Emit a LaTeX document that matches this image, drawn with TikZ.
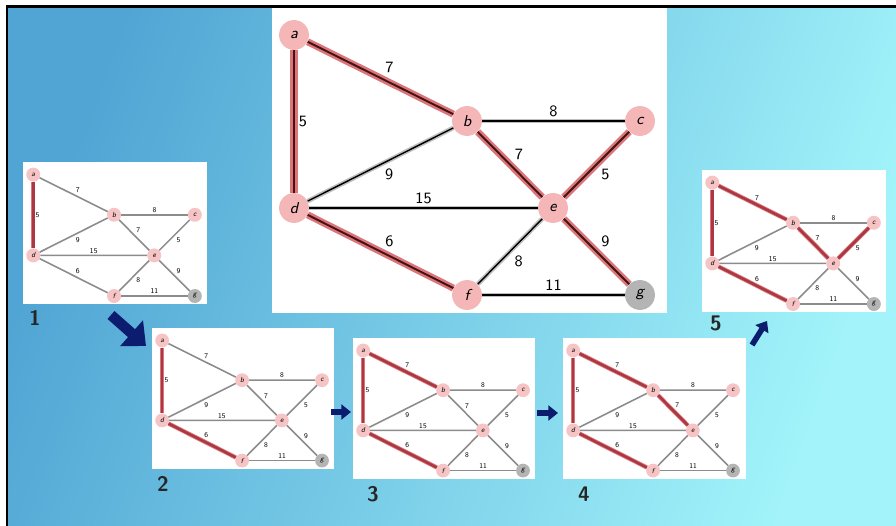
\documentclass[tikz,border=0pt]{standalone}
\usetikzlibrary{arrows.meta}

\definecolor{bgtop}{RGB}{80,165,212}
\definecolor{bgbot}{RGB}{162,244,250}
\definecolor{vertex}{RGB}{244,182,182}
\definecolor{vertexlight}{RGB}{246,196,196}
\definecolor{leaf}{RGB}{180,180,180}
\definecolor{treered}{RGB}{218,118,122}
\definecolor{treecore}{RGB}{70,18,20}
\definecolor{thumbred}{RGB}{170,55,65}
\definecolor{navy}{RGB}{12,28,110}

\tikzset{
  vtx/.style={circle, fill=vertex, minimum size=17pt, inner sep=0pt, font=\small\sffamily\itshape},
  wt/.style={font=\small\sffamily, inner sep=2.2pt},
  tree/.style={draw=treecore, line width=1.1pt, preaction={draw=treered, line width=4pt}},
  plain/.style={draw=black, line width=0.8pt, preaction={draw=black!25, line width=2.6pt}},
  thumbtree/.style={draw=thumbred, line width=1.4pt, preaction={draw=treered, line width=2.4pt}},
  thumbplain/.style={draw=black!45, line width=0.9pt},
  thumb/.style={tree/.style=thumbtree, plain/.style=thumbplain, vtx/.append style={fill=vertexlight}},
  e-ab/.style=plain, e-ad/.style=plain, e-bc/.style=plain, e-be/.style=plain,
  e-ce/.style=plain, e-db/.style=plain, e-de/.style=plain, e-df/.style=plain,
  e-ef/.style=plain, e-eg/.style=plain, e-fg/.style=plain,
  bigarrow/.style={draw=navy, line width=6pt, -{Triangle[length=11pt, width=19pt]}},
  smallarrow/.style={draw=navy, line width=3.2pt, -{Triangle[length=5.5pt, width=8.5pt]}},
  stepnum/.style={font=\large\sffamily\bfseries, text=black!85}
}

% one copy of the graph, node names start with #1
\newcommand{\mstgraph}[1]{%
  % white panel behind the graph
  \fill[white] (0,0) rectangle (395,305);
  % vertices
  \node[vtx] (#1a) at (22,27) {a};
  \node[vtx] (#1b) at (195,113) {b};
  \node[vtx] (#1c) at (368,113) {c};
  \node[vtx] (#1d) at (22,200) {d};
  \node[vtx] (#1e) at (281,200) {e};
  \node[vtx] (#1f) at (195,287) {f};
  \node[vtx, fill=leaf] (#1g) at (368,287) {g};
  % edges and weights
  \draw[e-ab] (#1a) -- node[wt, above right] {7} (#1b);
  \draw[e-ad] (#1a) -- node[wt, right] {5} (#1d);
  \draw[e-bc] (#1b) -- node[wt, above] {8} (#1c);
  \draw[e-be] (#1b) -- node[wt, above right] {7} (#1e);
  \draw[e-ce] (#1c) -- node[wt, below right] {5} (#1e);
  \draw[e-db] (#1d) -- node[wt, below right] {9} (#1b);
  \draw[e-de] (#1d) -- node[wt, above] {15} (#1e);
  \draw[e-df] (#1d) -- node[wt, above right] {6} (#1f);
  \draw[e-ef] (#1e) -- node[wt, below right] {8} (#1f);
  \draw[e-eg] (#1e) -- node[wt, above right] {9} (#1g);
  \draw[e-fg] (#1f) -- node[wt, above] {11} (#1g);
}

\begin{document}
\begin{tikzpicture}[x=0.02cm, y=-0.02cm]
    \useasboundingbox (0,0) rectangle (896,526);
    % Background with the frame on top and left
    \fill[white] (0,0) rectangle (896,526);
    \shade[top color=bgtop, bottom color=bgbot, shading angle=70] (7,7) rectangle (896,526);
    \draw[line width=1.7pt] (7,526) -- (7,7) -- (896,7);

    % Final tree, large
    \begin{scope}[shift={(272,8)}, e-ad/.style=tree, e-df/.style=tree, e-ab/.style=tree,
                  e-be/.style=tree, e-ce/.style=tree, e-eg/.style=tree]
      \mstgraph{m}
    \end{scope}

    % Step 1
    \begin{scope}[shift={(23,162)}, scale=0.467, transform shape, thumb, e-ad/.style=tree]
      \mstgraph{p}
    \end{scope}
    % Step 2
    \begin{scope}[shift={(152,328)}, scale=0.462, transform shape, thumb, e-ad/.style=tree,
                  e-df/.style=tree]
      \mstgraph{q}
    \end{scope}
    % Step 3
    \begin{scope}[shift={(353,338)}, scale=0.462, transform shape, thumb, e-ad/.style=tree,
                  e-df/.style=tree, e-ab/.style=tree]
      \mstgraph{r}
    \end{scope}
    % Step 4
    \begin{scope}[shift={(563,338)}, scale=0.462, transform shape, thumb, e-ad/.style=tree,
                  e-df/.style=tree, e-ab/.style=tree, e-be/.style=tree]
      \mstgraph{s}
    \end{scope}
    % Step 5
    \begin{scope}[shift={(702,170)}, scale=0.467, transform shape, thumb, e-ad/.style=tree,
                  e-df/.style=tree, e-ab/.style=tree, e-be/.style=tree, e-ce/.style=tree]
      \mstgraph{t}
    \end{scope}

    % Step numbers
    \node[stepnum] (n1) at (35,318) {1};
    \node[stepnum] (n2) at (163,484) {2};
    \node[stepnum] (n3) at (373,494) {3};
    \node[stepnum] (n4) at (584,494) {4};
    \node[stepnum] (n5) at (716,323) {5};

    % Arrows between the steps
    \coordinate (t12) at (111,315);
    \coordinate (h12) at (146,346);
    \draw[bigarrow] (t12) -- (h12);
    \coordinate (t23) at (331,412);
    \coordinate (h23) at (351,412);
    \draw[smallarrow] (t23) -- (h23);
    \coordinate (t34) at (537,413);
    \coordinate (h34) at (558,413);
    \draw[smallarrow] (t34) -- (h34);
    \coordinate (t45) at (752,345);
    \coordinate (h45) at (767,321);
    \draw[smallarrow] (t45) -- (h45);
\end{tikzpicture}
\end{document}
